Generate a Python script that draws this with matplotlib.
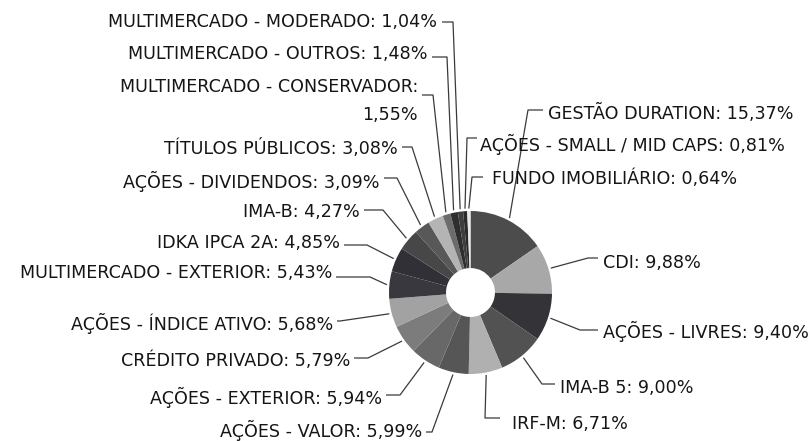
import matplotlib
matplotlib.use("Agg")
import matplotlib.pyplot as plt
import numpy as np

# Dados: categorias e percentuais (sentido horario a partir do topo)
categorias = [
    "GESTÃO DURATION", "CDI", "AÇÕES - LIVRES", "IMA-B 5", "IRF-M",
    "AÇÕES - VALOR", "AÇÕES - EXTERIOR", "CRÉDITO PRIVADO",
    "AÇÕES - ÍNDICE ATIVO", "MULTIMERCADO - EXTERIOR", "IDKA IPCA 2A",
    "IMA-B", "AÇÕES - DIVIDENDOS", "TÍTULOS PÚBLICOS",
    "MULTIMERCADO - CONSERVADOR", "MULTIMERCADO - OUTROS",
    "MULTIMERCADO - MODERADO", "AÇÕES - SMALL / MID CAPS",
    "FUNDO IMOBILIÁRIO",
]
valores = [
    15.37, 9.88, 9.40, 9.00, 6.71,
    5.99, 5.94, 5.79,
    5.68, 5.43, 4.85,
    4.27, 3.09, 3.08,
    1.55, 1.48,
    1.04, 0.81,
    0.64,
]
cores = [
    "#4c4c4c", "#a8a8a8", "#333338", "#525252", "#b0b0b0",
    "#565656", "#686868", "#7c7c7c",
    "#a2a2a2", "#38383e", "#303036",
    "#474747", "#585858", "#b4b4b4",
    "#6c6c6c", "#2e2e2e",
    "#3e3e3e", "#2a2a2a",
    "#e8e8e8",
]

# Layout em pixels (origem no canto superior esquerdo):
# (x do texto, y do texto, alinhamento, cotovelo x, cotovelo y, fim do traco x)
layout = [
    (548, 113, "left", 528, 110, 543),
    (603, 263, "left", 588, 258, 598),
    (603, 331, "left", 580, 330, 598),
    (560, 388, "left", 542, 384, 555),
    (512, 424, "left", 485, 418, 500),
    (422, 430, "right", 432, 432, 426),
    (382, 397, "right", 400, 395, 386),
    (350, 361, "right", 368, 358, 354),
    (333, 323, "right", 340, 321, 337),
    (332, 273, "right", 370, 277, 336),
    (340, 243, "right", 367, 245, 344),
    (360, 212, "right", 383, 210, 364),
    (380, 181, "right", 397, 178, 384),
    (398, 149, "right", 412, 147, 402),
    (418, 101, "right", 433, 95, 422),
    (428, 54, "right", 447, 57, 432),
    (437, 22, "right", 453, 22, 442),
    (480, 144, "left", 467, 138, 477),
    (492, 179, "left", 472, 177, 483),
]

W, H = 812, 441
cx, cy, raio = 470.5, H - 292.5, 81.5

fig = plt.figure(figsize=(W / 100, H / 100), dpi=100)
ax = fig.add_axes([0, 0, 1, 1])

wedges, _ = ax.pie(valores, colors=cores, startangle=90, counterclock=False,
                   center=(cx, cy), radius=raio,
                   wedgeprops=dict(width=raio * 0.7, linewidth=0))

total = sum(valores)
acum = 0.0
for i, (cat, v) in enumerate(zip(categorias, valores)):
    meio = acum + v / 2
    acum += v
    ang = np.deg2rad(90 - meio / total * 360)
    px = cx + raio * 1.03 * np.cos(ang)
    py = cy + raio * 1.03 * np.sin(ang)

    tx, ty, ha, ex, ey, fx = layout[i]
    ax.plot([px, ex, fx], [py, H - ey, H - ey], color="#3a3a3a",
            linewidth=0.9, solid_capstyle="butt")

    valor_txt = f"{v:.2f}".replace(".", ",") + "%"
    if cat == "MULTIMERCADO - CONSERVADOR":
        texto = f"{cat}:\n{valor_txt}"
    else:
        texto = f"{cat}: {valor_txt}"
    ax.text(tx, H - ty, texto, ha=ha, va="center", fontsize=12.6,
            family="DejaVu Sans", color="#151515", multialignment="right",
            linespacing=1.65)

ax.set_xlim(0, W)
ax.set_ylim(0, H)
ax.set_aspect("equal")
ax.axis("off")

fig.savefig("out.png", dpi=100, facecolor="white")
plt.close(fig)
